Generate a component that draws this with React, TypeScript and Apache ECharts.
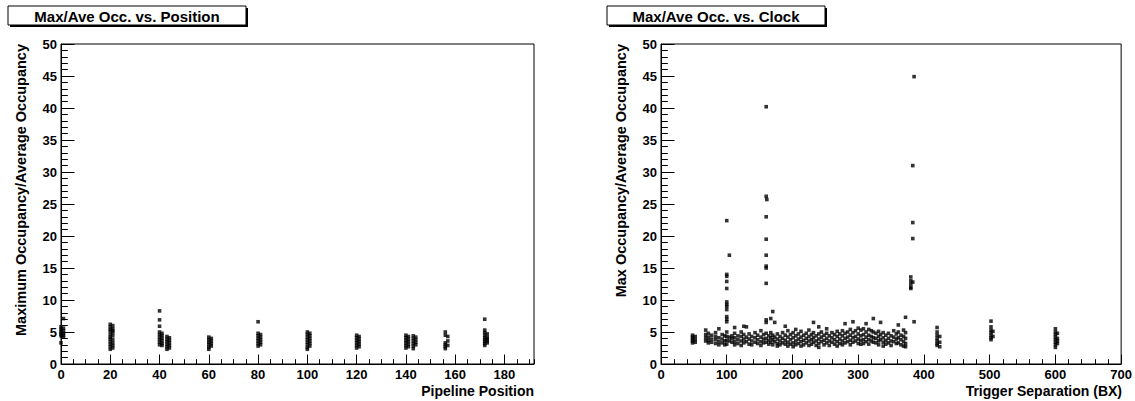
import React, { useEffect, useRef } from "react";
import * as echarts from "echarts";

// Left panel: Pipeline Position vs Max/Ave occupancy — [x, list of y values]
const positionColumns: [number, number[]][] = [
  [0, [5.8, 5.4, 5.0, 4.7, 4.4, 3.3]],
  [1, [7.1, 5.6, 5.2, 4.8, 4.5, 4.2]],
  [20, [6.2, 5.8, 5.4, 5.1, 4.6, 4.2, 3.9, 3.5, 3.1, 2.7, 2.3]],
  [21, [6.0, 5.5, 5.2, 4.9, 4.4, 3.8, 3.3, 2.9, 2.5]],
  [40, [8.3, 6.9, 5.9, 5.0, 4.6, 4.2, 3.8, 3.4, 3.0]],
  [41, [4.8, 4.4, 4.0, 3.6, 3.2, 2.9]],
  [43, [4.3, 3.9, 3.5, 3.1, 2.7, 2.3]],
  [44, [4.1, 3.7, 3.3, 2.9, 2.5]],
  [60, [4.2, 3.8, 3.4, 3.0, 2.6, 2.3]],
  [61, [4.0, 3.6, 3.2, 2.8]],
  [80, [6.6, 4.8, 4.4, 4.0, 3.6, 3.2, 2.8]],
  [81, [4.6, 4.2, 3.8, 3.4, 3.0]],
  [100, [5.0, 4.6, 4.2, 3.8, 3.4, 3.0, 2.6, 2.3]],
  [101, [4.8, 4.4, 4.0, 3.6, 3.2, 2.8]],
  [120, [4.5, 4.1, 3.7, 3.3, 2.9, 2.5]],
  [121, [4.3, 3.9, 3.5, 3.1, 2.7]],
  [140, [4.5, 4.1, 3.7, 3.3, 2.9, 2.5]],
  [141, [4.3, 3.9, 3.5, 3.1, 2.7]],
  [143, [4.4, 4.0, 3.6, 3.2, 2.8, 2.4]],
  [144, [4.2, 3.8, 3.4, 3.0]],
  [156, [5.0, 4.5, 3.3, 3.0, 2.7, 2.4]],
  [157, [4.3, 3.6, 2.9]],
  [172, [7.0, 5.3, 4.9, 4.5, 4.1, 3.8, 3.5, 3.2, 2.9]],
  [173, [4.7, 4.2, 3.9, 3.6, 3.3]],
];

// Right panel: high outliers at trigger separations ~100, ~160, ~383
const clockPeakColumns: [number, number[]][] = [
  [100, [22.4, 14.0, 13.7, 12.9, 11.8, 9.7, 9.3, 9.0, 8.5, 7.4, 7.0, 6.6]],
  [104, [17.0]],
  [160, [40.2, 26.2, 23.0, 19.5, 17.0, 15.3, 15.0, 12.6, 6.9, 6.5]],
  [161, [25.7]],
  [167, [7.1]],
  [170, [8.2]],
  [173, [6.5]],
  [380, [13.6, 13.0, 12.5, 12.0, 11.8]],
  [383, [31.0, 22.1, 19.6, 12.8]],
  [385, [44.9, 6.6]],
];

// Right panel: the dense band of ordinary values
const clockBandColumns: [number, number[]][] = [
  [48, [4.5, 4.2, 3.9, 3.6, 3.3]],
  [52, [4.3, 3.8, 3.4]],
  [68, [5.3, 4.6, 4.1, 3.6]],
  [72, [4.8, 4.2, 3.7, 3.3]],
  [77, [4.5, 3.9, 3.4]],
  [83, [4.9, 4.3, 3.8, 3.2]],
  [88, [5.5, 4.1, 3.5, 3.0]],
  [93, [4.6, 3.9, 3.3]],
  [97, [4.4, 3.6, 3.0]],
  [100, [5.0, 4.3, 3.7, 3.1]],
  [104, [4.2, 3.6]],
  [108, [4.4, 4.0, 3.4]],
  [112, [5.7, 4.8, 4.1, 3.5, 3.0]],
  [117, [4.4, 3.8, 3.2]],
  [122, [5.0, 4.3, 3.6, 2.9]],
  [126, [5.9, 4.6, 3.9, 3.3]],
  [130, [5.8, 4.2, 3.5]],
  [134, [4.7, 3.9, 3.1]],
  [138, [4.3, 3.6, 3.0]],
  [143, [4.9, 4.1, 3.4]],
  [147, [4.5, 3.8, 3.2]],
  [152, [5.2, 4.2, 3.5, 2.9]],
  [156, [4.6, 3.9, 3.3]],
  [160, [4.8, 4.0, 3.4]],
  [164, [4.4, 3.7, 3.1]],
  [167, [4.9, 4.1, 3.4]],
  [170, [4.5, 3.8, 3.0]],
  [173, [4.2, 3.5]],
  [177, [4.7, 3.9, 3.2, 2.8]],
  [181, [4.3, 3.6, 3.0]],
  [185, [4.9, 4.0, 3.3]],
  [189, [5.9, 4.5, 3.7, 3.1]],
  [193, [5.2, 4.2, 3.4, 2.8]],
  [197, [4.6, 3.8, 3.1]],
  [201, [4.9, 4.1, 3.3, 2.7]],
  [205, [5.4, 4.4, 3.6, 3.0]],
  [209, [4.7, 3.9, 3.2]],
  [213, [5.1, 4.2, 3.5, 2.8]],
  [217, [4.5, 3.7, 3.0]],
  [221, [4.8, 4.0, 3.3]],
  [225, [5.3, 4.3, 3.6, 2.9]],
  [229, [4.6, 3.8, 3.1]],
  [232, [6.5, 4.9, 4.1, 3.4]],
  [236, [4.4, 3.6, 2.9]],
  [240, [5.8, 4.7, 3.9, 3.2, 2.6]],
  [244, [5.0, 4.2, 3.5]],
  [248, [4.5, 3.7, 3.0]],
  [252, [5.5, 4.8, 4.0, 3.3]],
  [256, [4.4, 3.6, 2.9]],
  [260, [4.9, 4.1, 3.4]],
  [264, [4.6, 3.8, 3.1]],
  [268, [5.1, 4.3, 3.5, 2.8]],
  [272, [4.7, 3.9, 3.2]],
  [276, [5.2, 4.4, 3.6, 3.0]],
  [280, [6.3, 4.8, 4.0, 3.3]],
  [284, [5.0, 4.2, 3.5]],
  [288, [5.4, 4.5, 3.7, 3.0]],
  [292, [6.6, 4.9, 4.1, 3.4]],
  [296, [5.2, 4.3, 3.6]],
  [300, [5.6, 4.7, 3.9, 3.2]],
  [304, [5.3, 4.4, 3.7, 3.1]],
  [308, [5.5, 4.6, 3.8, 3.2]],
  [312, [6.3, 5.0, 4.2, 3.5]],
  [316, [5.4, 4.5, 3.8, 3.1]],
  [320, [5.2, 4.3, 3.6]],
  [323, [7.1, 5.0, 4.1, 3.4]],
  [327, [4.8, 4.0, 3.3]],
  [331, [5.1, 4.3, 3.6, 3.0]],
  [334, [6.5, 4.6, 3.8]],
  [338, [4.9, 4.1, 3.4, 2.8]],
  [342, [4.5, 3.7, 3.1]],
  [346, [4.8, 4.0, 3.3]],
  [350, [4.4, 3.6, 2.9]],
  [354, [5.2, 4.2, 3.5]],
  [358, [4.7, 3.9, 3.2]],
  [361, [6.1, 5.0, 4.1, 3.3]],
  [365, [4.5, 3.8, 3.0]],
  [369, [5.3, 4.3, 3.5, 2.8]],
  [372, [7.3, 4.9, 4.0, 3.2, 2.7]],
  [420, [5.7, 5.0, 4.5, 4.0, 3.6, 3.2, 2.9]],
  [424, [4.3, 3.4, 2.7]],
  [502, [6.7, 5.8, 5.3, 4.9, 4.5, 4.1, 3.8]],
  [505, [5.1, 4.3]],
  [600, [5.5, 5.0, 4.6, 4.2, 3.8, 3.4, 3.0, 2.6]],
  [603, [4.8, 4.0, 3.6, 3.2]],
];

const panelTitles = ["Max/Ave Occ. vs. Position", "Max/Ave Occ. vs. Clock"];
const xTitles = ["Pipeline Position", "Trigger Separation (BX)"];
const yTitles = ["Maximum Occupancy/Average Occupancy", "Max Occupancy/Average Occupancy"];

const FONT = "'Liberation Sans', Arial, Helvetica, sans-serif";

const flatten = (cols: [number, number[]][]) =>
  cols.flatMap(([x, ys]) => ys.map((y) => [x, y]));

export default function App() {
  const ref = useRef<HTMLDivElement>(null);
  useEffect(() => {
    const chart = echarts.init(ref.current!, null, { renderer: "svg" });

    const G = [
      { left: 61, top: 44, width: 473, height: 320 },
      { left: 661, top: 44, width: 461, height: 320 },
    ];

    const labelStyle = {
      fontFamily: FONT,
      fontWeight: "bold" as const,
      fontSize: 13,
      color: "#000",
    };

    const yAxisFor = (gi: number) => ({
      type: "value",
      gridIndex: gi,
      min: 0,
      max: 50,
      interval: 5,
      axisLine: { show: true, lineStyle: { color: "#000", width: 1 } },
      axisTick: { show: true, inside: true, length: 13.5, lineStyle: { color: "#000" } },
      minorTick: { show: true, splitNumber: 5, length: 6.8, lineStyle: { color: "#000" } },
      axisLabel: { ...labelStyle, margin: 4 },
      splitLine: { show: false },
      minorSplitLine: { show: false },
    });

    const marker = {
      type: "scatter",
      symbol: "rect",
      symbolSize: 3.6,
      itemStyle: { color: "#000" },
    };

    const option: any = {
      animation: false,
      backgroundColor: "#fff",
      grid: G.map((g) => ({
        ...g,
        show: true,
        borderColor: "#000",
        borderWidth: 1,
        backgroundColor: "transparent",
        containLabel: false,
      })),
      xAxis: [
        {
          type: "value",
          gridIndex: 0,
          position: "bottom",
          min: 0,
          max: 192,
          interval: 20,
          axisLine: { show: true, lineStyle: { color: "#000", width: 1 } },
          axisTick: { show: true, inside: true, length: 9.5, lineStyle: { color: "#000" } },
          axisLabel: { ...labelStyle, margin: 4, showMaxLabel: false },
          splitLine: { show: false },
        },
        {
          type: "value",
          gridIndex: 0,
          position: "bottom",
          min: 0,
          max: 192,
          interval: 5,
          axisLine: { show: false },
          axisTick: { show: true, inside: true, length: 4.8, lineStyle: { color: "#000" } },
          axisLabel: { show: false },
          splitLine: { show: false },
        },
        {
          type: "value",
          gridIndex: 1,
          position: "bottom",
          min: 0,
          max: 700,
          interval: 100,
          axisLine: { show: true, lineStyle: { color: "#000", width: 1 } },
          axisTick: { show: true, inside: true, length: 9.5, lineStyle: { color: "#000" } },
          minorTick: { show: true, splitNumber: 5, length: 4.8, lineStyle: { color: "#000" } },
          axisLabel: { ...labelStyle, margin: 4 },
          splitLine: { show: false },
          minorSplitLine: { show: false },
        },
      ],
      yAxis: [yAxisFor(0), yAxisFor(1)],
      series: [
        { ...marker, xAxisIndex: 0, yAxisIndex: 0, data: flatten(positionColumns) },
        { ...marker, xAxisIndex: 2, yAxisIndex: 1, data: flatten(clockBandColumns) },
        { ...marker, xAxisIndex: 2, yAxisIndex: 1, data: flatten(clockPeakColumns) },
      ],
      graphic: [
        ...[
          { x: 8, w: 238 },
          { x: 607, w: 218 },
        ].flatMap((b, i) => [
          {
            type: "rect",
            shape: { x: b.x + 2, y: 8, width: b.w, height: 19 },
            style: { fill: "#000" },
            silent: true,
          },
          {
            type: "rect",
            shape: { x: b.x, y: 6, width: b.w, height: 19 },
            style: { fill: "#fff", stroke: "#000", lineWidth: 1 },
            silent: true,
          },
          {
            type: "text",
            x: b.x + b.w / 2,
            y: 16,
            style: {
              text: panelTitles[i],
              fontFamily: FONT,
              fontWeight: "bold",
              fontSize: 15,
              fill: "#000",
              textAlign: "center",
              textVerticalAlign: "middle",
            },
            silent: true,
          },
        ]),
        ...[534, 1122].map((x, i) => ({
          type: "text",
          x,
          y: 391,
          style: {
            text: xTitles[i],
            fontFamily: FONT,
            fontWeight: "bold",
            fontSize: 14,
            fill: "#000",
            textAlign: "right",
            textVerticalAlign: "middle",
          },
          silent: true,
        })),
        ...[21, 621].map((x, i) => ({
          type: "text",
          x,
          y: 44,
          rotation: Math.PI / 2,
          style: {
            text: yTitles[i],
            fontFamily: FONT,
            fontWeight: "bold",
            fontSize: 14.5,
            fill: "#000",
            textAlign: "right",
            textVerticalAlign: "middle",
          },
          silent: true,
        })),
      ],
    };

    chart.setOption(option);
    return () => chart.dispose();
  }, []);

  return (
    <div
      ref={ref}
      style={{ position: "fixed", left: 0, top: 0, width: 1135, height: 401, background: "#fff" }}
    />
  );
}
